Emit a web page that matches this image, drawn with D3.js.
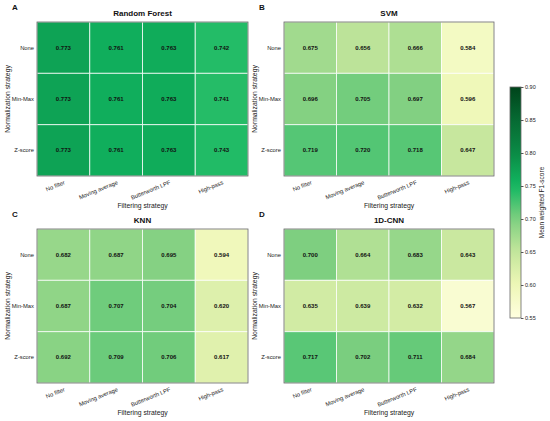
<!DOCTYPE html>
<html>
<head>
<meta charset="utf-8">
<script src="https://cdn.jsdelivr.net/npm/d3@7"></script>
<style>
  body { margin: 0; background: #fff; }
  svg { font-family: "Liberation Sans", Arial, sans-serif; }
</style>
</head>
<body>
<svg id="chart" width="550" height="421"></svg>
<script>
var filters = ["No filter", "Moving average", "Butterworth LPF", "High-pass"];
var norms = ["None", "Min-Max", "Z-score"];

var rfScores = [[0.773, 0.761, 0.763, 0.742], [0.773, 0.761, 0.763, 0.741], [0.773, 0.761, 0.763, 0.743]];
var svmScores = [[0.675, 0.656, 0.666, 0.584], [0.696, 0.705, 0.697, 0.596], [0.719, 0.720, 0.718, 0.647]];
var knnScores = [[0.682, 0.687, 0.695, 0.594], [0.687, 0.707, 0.704, 0.620], [0.692, 0.709, 0.706, 0.617]];
var cnnScores = [[0.700, 0.664, 0.683, 0.643], [0.635, 0.639, 0.632, 0.567], [0.717, 0.702, 0.711, 0.684]];

var barTicks = [0.55, 0.60, 0.65, 0.70, 0.75, 0.80, 0.85, 0.90];

var svg = d3.select("#chart");

// yellow -> green colormap
var color = d3.scaleLinear()
  .domain(barTicks)
  .range(["#ffffe0", "#eef7b6", "#c4e69c", "#7ecf80", "#12b862", "#0a8a45", "#066a33", "#00441b"])
  .clamp(true);

var panels = [
  { letter: "A", title: "Random Forest", data: rfScores, x: 37, y: 22, w: 211 },
  { letter: "B", title: "SVM", data: svmScores, x: 284, y: 22, w: 210 },
  { letter: "C", title: "KNN", data: knnScores, x: 37, y: 229, w: 211 },
  { letter: "D", title: "1D-CNN", data: cnnScores, x: 284, y: 229, w: 210 }
];
var H = 154;

panels.forEach(function(p) {
  var g = svg.append("g").attr("transform", "translate(" + p.x + "," + p.y + ")");

  var x = d3.scaleBand().domain(filters).range([0, p.w]);
  var y = d3.scaleBand().domain(norms).range([0, H]);

  var cells = [];
  p.data.forEach(function(row, i) {
    row.forEach(function(v, j) {
      cells.push({ norm: norms[i], filt: filters[j], v: v });
    });
  });

  g.selectAll("rect.cell").data(cells).enter()
    .append("rect")
    .attr("class", "cell")
    .attr("x", function(d) { return x(d.filt); })
    .attr("y", function(d) { return y(d.norm); })
    .attr("width", x.bandwidth())
    .attr("height", y.bandwidth())
    .attr("fill", function(d) { return color(d.v); })
    .attr("stroke", "rgba(255,255,255,0.75)")
    .attr("stroke-width", 1);

  g.selectAll("text.val").data(cells).enter()
    .append("text")
    .attr("class", "val")
    .attr("x", function(d) { return x(d.filt) + x.bandwidth() / 2; })
    .attr("y", function(d) { return y(d.norm) + y.bandwidth() / 2; })
    .attr("dy", "0.35em")
    .attr("text-anchor", "middle")
    .attr("font-size", 6)
    .attr("font-weight", "bold")
    .attr("fill", "#111")
    .text(function(d) { return d3.format(".3f")(d.v); });

  // frame
  g.append("rect")
    .attr("width", p.w).attr("height", H)
    .attr("fill", "none").attr("stroke", "#666").attr("stroke-width", 0.8);

  // y labels
  g.selectAll("text.ylab").data(norms).enter()
    .append("text")
    .attr("class", "ylab")
    .attr("x", -3)
    .attr("y", function(d) { return y(d) + y.bandwidth() / 2; })
    .attr("dy", "0.35em")
    .attr("text-anchor", "end")
    .attr("font-size", 5.8)
    .attr("fill", "#222")
    .text(function(d) { return d; });

  // x labels, rotated
  g.selectAll("text.xlab").data(filters).enter()
    .append("text")
    .attr("class", "xlab")
    .attr("transform", function(d) {
      return "translate(" + (x(d) + x.bandwidth() / 2 + 2) + "," + (H + 8) + ") rotate(-22)";
    })
    .attr("text-anchor", "end")
    .attr("font-size", 5.8)
    .attr("fill", "#222")
    .text(function(d) { return d; });

  g.append("text")
    .attr("x", p.w / 2).attr("y", H + 32)
    .attr("text-anchor", "middle")
    .attr("font-size", 6.8)
    .attr("fill", "#222")
    .text("Filtering strategy");

  g.append("text")
    .attr("transform", "translate(-27," + (H / 2) + ") rotate(-90)")
    .attr("text-anchor", "middle")
    .attr("font-size", 6.8)
    .attr("fill", "#222")
    .text("Normalization strategy");

  g.append("text")
    .attr("x", p.w / 2).attr("y", -6)
    .attr("text-anchor", "middle")
    .attr("font-size", 8)
    .attr("font-weight", "bold")
    .attr("fill", "#111")
    .text(p.title);

  g.append("text")
    .attr("x", -25).attr("y", -12)
    .attr("font-size", 8)
    .attr("font-weight", "bold")
    .attr("fill", "#111")
    .text(p.letter);
});

// colorbar
var cbX = 510, cbY = 87, cbW = 11, cbH = 231;
var cb = d3.scaleLinear().domain([0.55, 0.90]).range([cbY + cbH, cbY]);

var grad = svg.append("defs").append("linearGradient")
  .attr("id", "cbgrad")
  .attr("x1", "0%").attr("y1", "100%").attr("x2", "0%").attr("y2", "0%");
d3.range(0, 1.0001, 0.05).forEach(function(t) {
  grad.append("stop")
    .attr("offset", (t * 100) + "%")
    .attr("stop-color", color(0.55 + t * 0.35));
});

svg.append("rect")
  .attr("x", cbX).attr("y", cbY).attr("width", cbW).attr("height", cbH)
  .attr("fill", "url(#cbgrad)")
  .attr("stroke", "#666").attr("stroke-width", 0.8);

var cbAxis = d3.axisRight(cb).tickValues(barTicks).tickFormat(d3.format(".2f")).tickSize(2.5).tickPadding(1.5);
var cbG = svg.append("g")
  .attr("transform", "translate(" + (cbX + cbW) + ",0)")
  .call(cbAxis);
cbG.select(".domain").remove();
cbG.selectAll(".tick line").attr("stroke", "#555");
cbG.selectAll(".tick text")
  .attr("font-size", 5.5)
  .attr("fill", "#222")
  .attr("font-family", "Liberation Sans, Arial, sans-serif");

svg.append("text")
  .attr("transform", "translate(544," + (cbY + cbH / 2) + ") rotate(-90)")
  .attr("text-anchor", "middle")
  .attr("font-size", 6.5)
  .attr("fill", "#222")
  .text("Mean weighted F1-score");
</script>
</body>
</html>
